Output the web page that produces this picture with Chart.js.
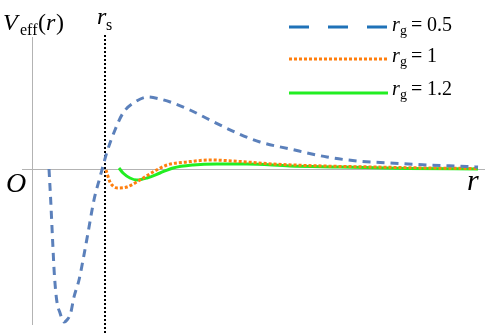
<!DOCTYPE html>
<html><head><meta charset="utf-8">
<script src="https://cdn.jsdelivr.net/npm/chart.js@4/dist/chart.umd.min.js"></script>
<style>html,body{margin:0;padding:0;background:#fff;overflow:hidden}canvas{display:block}</style>
</head><body>
<canvas id="c" width="490" height="335"></canvas>
<script>
// r in units of r_s, V in arbitrary units
const rBlue = [0.233,0.256,0.284,0.305,0.338,0.384,0.438,0.479,0.530,0.575,0.644,0.699,0.767,0.849,0.932,0.973,1.027,1.137,1.247,1.411,1.589,1.753,1.932,2.164,2.438,2.808,3.123,3.534,4.041,4.452,4.904,5.411,5.959,6.110];
const vBlue = [0.00,-0.31,-0.74,-1.04,-1.31,-1.44,-1.53,-1.51,-1.44,-1.28,-1.11,-0.91,-0.64,-0.31,-0.08,0.03,0.17,0.39,0.56,0.67,0.72,0.70,0.66,0.59,0.49,0.36,0.27,0.20,0.12,0.08,0.06,0.04,0.025,0.02];
const rOrange = [1.014,1.068,1.110,1.178,1.301,1.479,1.658,1.849,2.123,2.438,2.849,3.301,3.986,4.671,5.411,6.110];
const vOrange = [-0.01,-0.13,-0.17,-0.19,-0.18,-0.11,-0.03,0.04,0.07,0.09,0.075,0.05,0.03,0.02,0.01,0.005];
const rGreen = [1.192,1.247,1.342,1.438,1.575,1.753,1.932,2.205,2.534,2.945,3.534,4.219,5.137,6.110];
const vGreen = [0.01,-0.04,-0.09,-0.11,-0.09,-0.04,0.01,0.04,0.05,0.05,0.03,0.02,0.005,0.0];
const seriesLabels = ['0.5','1','1.2'];
const rS = 1;

const pts = (xs, ys) => xs.map((x, i) => ({x, y: ys[i]}));
const serif = '"Liberation Serif","DejaVu Serif",serif';

const overlay = {
  id: 'overlay',
  beforeDatasetsDraw(chart) {
    const {ctx, scales: {x, y}} = chart;
    ctx.save();
    ctx.strokeStyle = '#b3b3b3';
    ctx.lineWidth = 1;
    const x0 = Math.round(x.getPixelForValue(0)) + 0.5;
    const y0 = Math.round(y.getPixelForValue(0)) + 0.5;
    ctx.beginPath();
    ctx.moveTo(x0, 37); ctx.lineTo(x0, 325);
    ctx.moveTo(22, y0); ctx.lineTo(485, y0);
    ctx.stroke();
    // r_s dotted line
    const xs = Math.round(x.getPixelForValue(rS));
    ctx.strokeStyle = '#000';
    ctx.lineWidth = 2;
    ctx.setLineDash([2, 2]);
    ctx.beginPath();
    ctx.moveTo(xs, 35); ctx.lineTo(xs, 335);
    ctx.stroke();
    ctx.restore();
  },
  afterDraw(chart) {
    const {ctx} = chart;
    ctx.save();
    ctx.fillStyle = '#000';
    ctx.textBaseline = 'alphabetic';
    // V_eff(r)
    ctx.font = 'italic 24px ' + serif;
    ctx.fillText('V', 3, 30);
    ctx.font = '16px ' + serif;
    ctx.fillText('eff', 20, 35);
    ctx.font = '24px ' + serif;
    ctx.fillText('(', 38, 30);
    ctx.font = 'italic 24px ' + serif;
    ctx.fillText('r', 46, 30);
    ctx.font = '24px ' + serif;
    ctx.fillText(')', 56, 30);
    // r_s
    ctx.font = 'italic 24px ' + serif;
    ctx.fillText('r', 97, 24);
    ctx.font = '16px ' + serif;
    ctx.fillText('s', 106, 30);
    // O
    ctx.font = 'italic 28px ' + serif;
    ctx.fillText('O', 6, 192);
    // r axis label
    ctx.font = 'italic 30px ' + serif;
    ctx.fillText('r', 467, 190);
    // legend
    const rows = [
      {y: 27, color: '#1f72b8', dash: [20, 19]},
      {y: 59, color: '#ff7f0e', dash: [3, 2]},
      {y: 93, color: '#22ee22', dash: []}
    ];
    const baselines = [31, 62, 95];
    rows.forEach((r, i) => {
      ctx.strokeStyle = r.color;
      ctx.lineWidth = 3;
      ctx.setLineDash(r.dash);
      ctx.beginPath();
      ctx.moveTo(289, r.y); ctx.lineTo(388, r.y);
      ctx.stroke();
      ctx.setLineDash([]);
      const b = baselines[i];
      ctx.font = 'italic 20px ' + serif;
      ctx.fillText('r', 392, b);
      ctx.font = '14px ' + serif;
      ctx.fillText('g', 400, b + 4);
      ctx.font = '20px ' + serif;
      ctx.fillText('=', 411, b);
      ctx.fillText(seriesLabels[i], 427, b);
    });
    ctx.restore();
  }
};

new Chart(document.getElementById('c'), {
  type: 'line',
  data: {
    datasets: [
      {data: pts(rBlue, vBlue), borderColor: '#5b80bb', borderWidth: 3, borderDash: [8, 6], pointRadius: 0, cubicInterpolationMode: 'monotone', fill: false},
      {data: pts(rOrange, vOrange), borderColor: '#ff7f0e', borderWidth: 3, borderDash: [3, 2], pointRadius: 0, cubicInterpolationMode: 'monotone', fill: false},
      {data: pts(rGreen, vGreen), borderColor: '#22ee22', borderWidth: 3, pointRadius: 0, cubicInterpolationMode: 'monotone', fill: false}
    ]
  },
  options: {
    responsive: false,
    animation: false,
    layout: {padding: 0},
    plugins: {legend: {display: false}, tooltip: {enabled: false}},
    scales: {
      x: {type: 'linear', display: false, min: -32/73, max: 458/73},
      y: {type: 'linear', display: false, min: -1.66, max: 1.69}
    }
  },
  plugins: [overlay]
});
</script>
</body></html>
